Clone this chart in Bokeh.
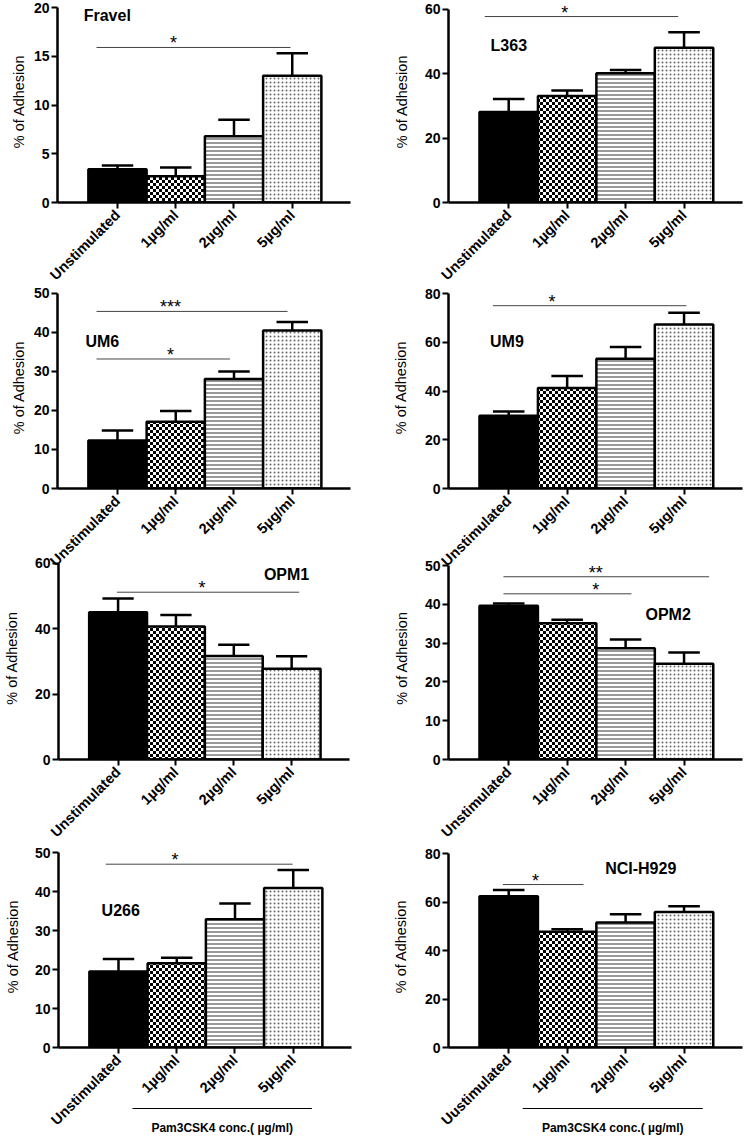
import math
import zlib
import struct
import base64
from bokeh.plotting import figure
from bokeh.models import Range1d, FixedTicker, ColumnDataSource, ImageURLTexture
from bokeh.layouts import column, row
from bokeh.embed import file_html
from bokeh.resources import INLINE
from bokeh.core.properties import value

FONT = "Liberation Sans"

# ---------------- data ----------------
doses = ["Unstimulated", "1µg/ml", "2µg/ml", "5µg/ml"]
doses_h929 = ["Uustimulated", "1µg/ml", "2µg/ml", "5µg/ml"]
group_label = "Pam3CSK4 conc.( µg/ml)"
group_span = [0.24, 3.32]

fravel_mean = [3.4, 2.7, 6.8, 13.0]
fravel_sem = [0.4, 0.9, 1.7, 2.3]
l363_mean = [28.1, 33.1, 40.2, 48.1]
l363_sem = [4.1, 1.7, 1.0, 4.8]
um6_mean = [12.3, 17.1, 28.1, 40.5]
um6_sem = [2.6, 2.8, 1.9, 2.2]
um9_mean = [29.8, 41.2, 53.2, 67.3]
um9_sem = [1.8, 5.0, 4.9, 4.8]
opm1_mean = [45.1, 40.7, 31.7, 27.8]
opm1_sem = [4.2, 3.5, 3.4, 3.8]
opm2_mean = [39.6, 35.1, 28.7, 24.7]
opm2_sem = [0.6, 0.9, 2.2, 2.9]
u266_mean = [19.5, 21.6, 32.9, 40.9]
u266_sem = [3.2, 1.4, 4.0, 4.6]
h929_mean = [62.4, 47.7, 51.5, 55.9]
h929_sem = [2.6, 1.1, 3.4, 2.3]

# significance brackets: (x from, x to, y, stars, star x)
fravel_sig = [(-0.36, 2.97, 15.9, "*", 0.96)]
l363_sig = [(-0.41, 2.90, 57.8, "*", 0.96)]
um6_sig = [(-0.36, 2.92, 45.4, "***", 0.91), (-0.36, 1.93, 33.2, "*", 0.91)]
um9_sig = [(-0.27, 3.04, 75.0, "*", 0.74)]
opm1_sig = [(-0.02, 3.13, 51.2, "*", 1.45)]
opm2_sig = [(-0.09, 3.43, 47.1, "**", 1.49), (-0.09, 2.10, 42.7, "*", 1.49)]
u266_sig = [(-0.22, 2.99, 47.0, "*", 0.97)]
h929_sig = [(-0.10, 1.28, 67.2, "*", 0.46)]

# bar styles
fills = ["black", "white", "white", "white"]
hatches = [" ", "checker", "horizontal_line", "dot"]
hatch_colors = ["black", "black", "#333333", "#666666"]
hatch_scales = [4, 6, 4, 4]
hatch_weights = [1, 1, 1, 1]


def checker_png(cell=3):
    size = cell * 2
    rows = []
    for y in range(size):
        rows.append(bytes([0 if ((x // cell) + (y // cell)) % 2 == 0 else 255
                           for x in range(size)]))
    raw = b"".join(b"\x00" + r for r in rows)

    def chunk(tag, data):
        c = struct.pack(">I", len(data)) + tag + data
        return c + struct.pack(">I", zlib.crc32(tag + data) & 0xFFFFFFFF)

    png = (b"\x89PNG\r\n\x1a\n"
           + chunk(b"IHDR", struct.pack(">IIBBBBB", size, size, 8, 0, 0, 0, 0))
           + chunk(b"IDAT", zlib.compress(raw))
           + chunk(b"IEND", b""))
    return "data:image/png;base64," + base64.b64encode(png).decode("ascii")


CHECKER_URL = checker_png(3)
X_RANGE = (-1.03, 4.0)


def panel(names, means, sems, ymax, ystep, geom, title, tx, ty, sigs, lab_standoff):
    cx0, cy0, cw, ch, fl, fr, ft, fb = geom
    per_px = ymax / float(fb - ft)
    y_end = ymax + (ft - cy0) * per_px   # frame reaches the canvas top; axis stops at ymax
    p = figure(width=cw, height=ch, x_range=Range1d(*X_RANGE),
               y_range=Range1d(0, y_end),
               output_backend="svg", toolbar_location=None,
               min_border_left=fl - cx0, min_border_right=cx0 + cw - fr,
               min_border_top=0, min_border_bottom=cy0 + ch - fb)
    p.outline_line_color = None
    p.grid.visible = False
    p.background_fill_color = None
    p.border_fill_color = None

    xs = list(range(len(names)))
    src = ColumnDataSource(dict(x=xs, top=means, fill=fills, hatch=hatches,
                                hcol=hatch_colors, hscale=hatch_scales, hw=hatch_weights))
    p.vbar(x="x", top="top", width=1.0, bottom=0, source=src,
           fill_color="fill", line_color="black", line_width=2.5,
           hatch_pattern="hatch", hatch_color="hcol", hatch_scale="hscale",
           hatch_weight="hw",
           hatch_extra={"checker": ImageURLTexture(url=CHECKER_URL, repetition="repeat")})

    uppers = [m + s for m, s in zip(means, sems)]
    p.segment(x0=xs, y0=means, x1=xs, y1=uppers, line_color="black", line_width=2.5)
    cap = 0.27
    p.segment(x0=[x - cap for x in xs], y0=uppers, x1=[x + cap for x in xs], y1=uppers,
              line_color="black", line_width=2.5)

    for (a, b, y, stars, sx) in sigs:
        p.segment(x0=[a], y0=[y], x1=[b], y1=[y], line_color="#444444", line_width=1)
        p.text(x=[sx], y=[y], text=[stars], text_align="center", text_baseline="alphabetic",
               y_offset=-4, text_font=value(FONT), text_font_size="18px", text_color="black")

    p.text(x=[tx], y=[ty], text=[title], text_align="left", text_baseline="middle",
           text_font=value(FONT), text_font_size="16px", text_font_style="bold",
           text_color="black")

    for ax in (p.xaxis, p.yaxis):
        ax.axis_line_width = 2.5
        ax.axis_line_color = "black"
        ax.major_tick_line_width = 2
        ax.major_tick_line_color = "black"
        ax.major_tick_in = 0
        ax.major_tick_out = 6
        ax.minor_tick_line_color = None
        ax.major_label_text_font = FONT
        ax.major_label_text_font_style = "bold"
        ax.major_label_text_color = "black"
    p.yaxis.major_label_text_font_size = "14px"
    p.xaxis.major_label_text_font_size = "14.5px"

    p.xaxis.ticker = FixedTicker(ticks=xs)
    p.xaxis.major_label_overrides = {i: n for i, n in enumerate(names)}
    p.xaxis.major_label_orientation = math.pi / 4
    p.xaxis.major_label_standoff = 4

    p.yaxis.bounds = (0, ymax)
    p.yaxis.ticker = FixedTicker(ticks=list(range(0, ymax + 1, ystep)))
    p.yaxis.major_label_standoff = 2
    p.yaxis.axis_label = "% of Adhesion"
    p.yaxis.axis_label_text_font = FONT
    p.yaxis.axis_label_text_font_size = "14.5px"
    p.yaxis.axis_label_text_font_style = "normal"
    p.yaxis.axis_label_text_color = "black"
    p.yaxis.axis_label_standoff = lab_standoff
    return p


def group_panel(cx0, cw, fl, fr):
    g = figure(width=cw, height=40, x_range=Range1d(*X_RANGE), y_range=Range1d(0, 40),
               output_backend="svg", toolbar_location=None,
               x_axis_type=None, y_axis_type=None,
               min_border_left=fl - cx0, min_border_right=cx0 + cw - fr,
               min_border_top=0, min_border_bottom=0)
    g.outline_line_color = None
    g.grid.visible = False
    g.background_fill_color = None
    g.border_fill_color = None
    a, b = group_span
    g.segment(x0=[a], y0=[28], x1=[b], y1=[28], line_color="black", line_width=1)
    g.text(x=[(a + b) / 2], y=[9], text=[group_label], text_align="center",
           text_baseline="middle", text_font=value(FONT), text_font_size="12px",
           text_font_style="bold", text_color="black")
    return g


p1 = panel(doses, fravel_mean, fravel_sem, 20, 5, (0, 0, 372, 292, 57, 350, 7, 202),
           "Fravel", -0.58, 19.2, fravel_sig, 4)
p2 = panel(doses, l363_mean, l363_sem, 60, 20, (372, 0, 373, 292, 448, 742, 9, 203),
           "L363", -0.31, 48.9, l363_sig, 12)
p3 = panel(doses, um6_mean, um6_sem, 50, 10, (0, 286, 372, 294, 57, 350, 293, 489),
           "UM6", -0.55, 37.8, um6_sig, 4)
p4 = panel(doses, um9_mean, um9_sem, 80, 20, (372, 286, 373, 294, 448, 742, 293, 488),
           "UM9", -0.32, 60.3, um9_sig, 13)
p5 = panel(doses, opm1_mean, opm1_sem, 60, 20, (0, 556, 372, 296, 54, 349, 563, 760),
           "OPM1", 2.52, 56.5, opm1_sig, 12)
p6 = panel(doses, opm2_mean, opm2_sem, 50, 10, (372, 556, 373, 296, 448, 742, 565, 759),
           "OPM2", 2.34, 37.4, opm2_sig, 12)
p7 = panel(doses, u266_mean, u266_sem, 50, 10, (0, 845, 372, 291, 58, 351, 852, 1047),
           "U266", -0.29, 35.1, u266_sig, 11)
p8 = panel(doses_h929, h929_mean, h929_sem, 80, 20, (372, 845, 373, 291, 448, 742, 853, 1047),
           "NCI-H929", 1.65, 73.8, h929_sig, 13)

g7 = group_panel(0, 372, 58, 351)
g8 = group_panel(372, 373, 448, 742)

layout = column(row(p1, p2),
                row(p3, p4, margin=(-6, 0, 0, 0)),
                row(p5, p6, margin=(-24, 0, 0, 0)),
                row(p7, p8, margin=(-7, 0, 0, 0)),
                row(g7, g8, margin=(-40, 0, 0, 0)))

open("out.html", "w").write(file_html(layout, INLINE))
